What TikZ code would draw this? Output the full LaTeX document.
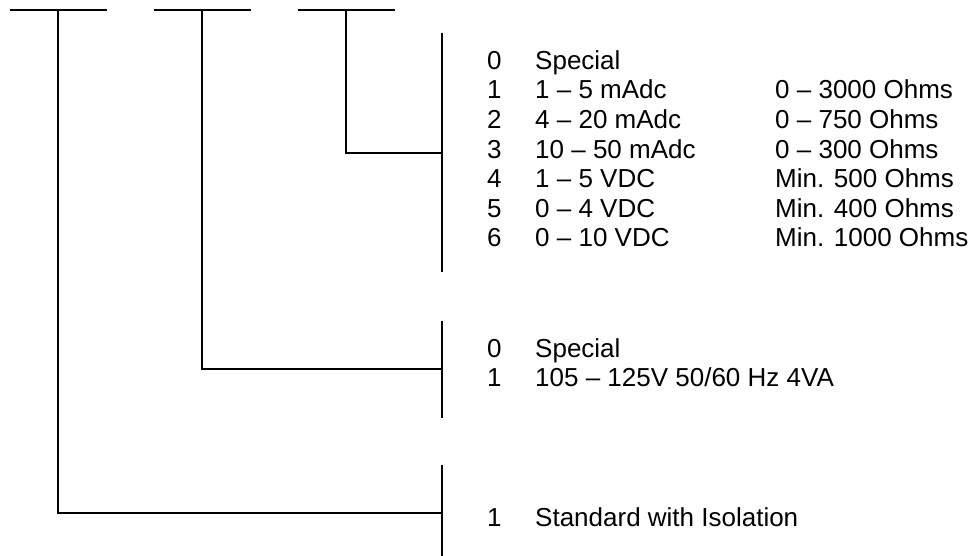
\documentclass[tikz,border=0pt]{standalone}
\usepackage{fontspec}
\setmainfont{Liberation Sans}
\usetikzlibrary{positioning}

\tikzset{
  blank/.style={line width=2pt},
  branch/.style={line width=1.2pt},
  code/.style={anchor=base west, inner sep=0pt, font=\fontsize{26}{30}\selectfont},
}

\begin{document}
\begin{tikzpicture}[x=1pt, y=-1pt]
  \useasboundingbox (0,0) rectangle (974,556);

  % --- Code blanks ---
  \draw[blank] (10,10) -- (107,10);
  \draw[blank] (154,10) -- (251,10);
  \draw[blank] (298,10) -- (395,10);
  \coordinate (s1) at (58,10);
  \coordinate (s2) at (202,10);
  \coordinate (s3) at (346,10);

  % --- Bracket 3: output ---
  \coordinate (t3) at (442,33);
  \coordinate (b3) at (442,272);
  \coordinate (j3) at (442,153);
  \draw[branch] (t3) -- (b3);
  \draw[branch] (s3) |- (j3);
  \node[code] (o0) at (487,69.3) {0};
  \node[code] (o0t) at (535,69.3) {Special};
  \node[code] (o1) at (487,98.9) {1};
  \node[code] (o1t) at (535,98.9) {1 -- 5 mAdc};
  \node[code] (o1r) at (775,98.9) {0 -- 3000 Ohms};
  \node[code] (o2) at (487,128.5) {2};
  \node[code] (o2t) at (535,128.5) {4 -- 20 mAdc};
  \node[code] (o2r) at (775,128.5) {0 -- 750 Ohms};
  \node[code] (o3) at (487,158.1) {3};
  \node[code] (o3t) at (535,158.1) {10 -- 50 mAdc};
  \node[code] (o3r) at (775,158.1) {0 -- 300 Ohms};
  \node[code] (o4) at (487,187.7) {4};
  \node[code] (o4t) at (535,187.7) {1 -- 5 VDC};
  \node[code] (o4r) at (775,187.7) {Min. 500 Ohms};
  \node[code] (o5) at (487,217.3) {5};
  \node[code] (o5t) at (535,217.3) {0 -- 4 VDC};
  \node[code] (o5r) at (775,217.3) {Min. 400 Ohms};
  \node[code] (o6) at (487,246.9) {6};
  \node[code] (o6t) at (535,246.9) {0 -- 10 VDC};
  \node[code] (o6r) at (775,246.9) {Min. 1000 Ohms};

  % --- Bracket 2: power ---
  \coordinate (t2) at (442,321);
  \coordinate (b2) at (442,418);
  \coordinate (j2) at (442,369);
  \draw[branch] (t2) -- (b2);
  \draw[branch] (s2) |- (j2);
  \node[code] (p0) at (487,357.3) {0};
  \node[code] (p0t) at (535,357.3) {Special};
  \node[code] (p1) at (487,386.3) {1};
  \node[code] (p1t) at (535,386.3) {105 -- 125V 50/60 Hz 4VA};

  % --- Bracket 1: isolation ---
  \coordinate (t1) at (442,465);
  \coordinate (b1) at (442,556);
  \coordinate (j1) at (442,513);
  \draw[branch] (t1) -- (b1);
  \draw[branch] (s1) |- (j1);
  \node[code] (i1) at (487,526.3) {1};
  \node[code] (i1t) at (535,526.3) {Standard with Isolation};
\end{tikzpicture}
\end{document}
